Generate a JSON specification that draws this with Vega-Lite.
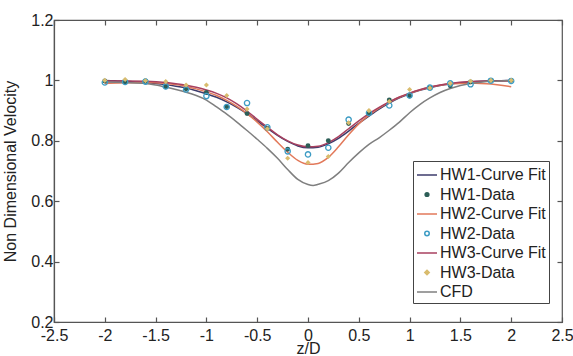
{
  "$schema": "https://vega.github.io/schema/vega-lite/v6.json",
  "width": 508,
  "height": 302,
  "autosize": {"type": "none"},
  "padding": {"left": 54, "top": 20, "right": 11, "bottom": 34},
  "background": "white",
  "config": {
    "view": {"stroke": "#555", "strokeWidth": 1.2},
    "font": "Liberation Sans",
    "axis": {
      "labelFont": "Liberation Sans",
      "labelFontSize": 16,
      "labelColor": "#222",
      "titleFont": "Liberation Sans",
      "titleFontSize": 16,
      "titleFontWeight": "normal",
      "titleColor": "#222",
      "domainColor": "#555",
      "domainWidth": 1.2,
      "tickColor": "#555",
      "tickWidth": 1.2,
      "tickSize": -5,
      "grid": false
    }
  },
  "datasets": {
    "curves": [
      {"series": "HW1-Curve Fit", "z": -2.0, "v": 1.0},
      {"series": "HW1-Curve Fit", "z": -1.9, "v": 0.999},
      {"series": "HW1-Curve Fit", "z": -1.8, "v": 0.997},
      {"series": "HW1-Curve Fit", "z": -1.7, "v": 0.995},
      {"series": "HW1-Curve Fit", "z": -1.6, "v": 0.993},
      {"series": "HW1-Curve Fit", "z": -1.5, "v": 0.99},
      {"series": "HW1-Curve Fit", "z": -1.4, "v": 0.986},
      {"series": "HW1-Curve Fit", "z": -1.3, "v": 0.981},
      {"series": "HW1-Curve Fit", "z": -1.2, "v": 0.975},
      {"series": "HW1-Curve Fit", "z": -1.1, "v": 0.966},
      {"series": "HW1-Curve Fit", "z": -1.0, "v": 0.956},
      {"series": "HW1-Curve Fit", "z": -0.9, "v": 0.944},
      {"series": "HW1-Curve Fit", "z": -0.8, "v": 0.929},
      {"series": "HW1-Curve Fit", "z": -0.7, "v": 0.911},
      {"series": "HW1-Curve Fit", "z": -0.6, "v": 0.89},
      {"series": "HW1-Curve Fit", "z": -0.5, "v": 0.866},
      {"series": "HW1-Curve Fit", "z": -0.4, "v": 0.842},
      {"series": "HW1-Curve Fit", "z": -0.3, "v": 0.818},
      {"series": "HW1-Curve Fit", "z": -0.2, "v": 0.798},
      {"series": "HW1-Curve Fit", "z": -0.1, "v": 0.783},
      {"series": "HW1-Curve Fit", "z": 0.0, "v": 0.777},
      {"series": "HW1-Curve Fit", "z": 0.1, "v": 0.779},
      {"series": "HW1-Curve Fit", "z": 0.2, "v": 0.79},
      {"series": "HW1-Curve Fit", "z": 0.3, "v": 0.808},
      {"series": "HW1-Curve Fit", "z": 0.4, "v": 0.832},
      {"series": "HW1-Curve Fit", "z": 0.5, "v": 0.858},
      {"series": "HW1-Curve Fit", "z": 0.6, "v": 0.882},
      {"series": "HW1-Curve Fit", "z": 0.7, "v": 0.905},
      {"series": "HW1-Curve Fit", "z": 0.8, "v": 0.925},
      {"series": "HW1-Curve Fit", "z": 0.9, "v": 0.942},
      {"series": "HW1-Curve Fit", "z": 1.0, "v": 0.956},
      {"series": "HW1-Curve Fit", "z": 1.1, "v": 0.967},
      {"series": "HW1-Curve Fit", "z": 1.2, "v": 0.976},
      {"series": "HW1-Curve Fit", "z": 1.3, "v": 0.983},
      {"series": "HW1-Curve Fit", "z": 1.4, "v": 0.988},
      {"series": "HW1-Curve Fit", "z": 1.5, "v": 0.992},
      {"series": "HW1-Curve Fit", "z": 1.6, "v": 0.995},
      {"series": "HW1-Curve Fit", "z": 1.7, "v": 0.997},
      {"series": "HW1-Curve Fit", "z": 1.8, "v": 0.998},
      {"series": "HW1-Curve Fit", "z": 1.9, "v": 0.999},
      {"series": "HW1-Curve Fit", "z": 2.0, "v": 1.0},

      {"series": "HW2-Curve Fit", "z": -2.0, "v": 0.99},
      {"series": "HW2-Curve Fit", "z": -1.8, "v": 0.992},
      {"series": "HW2-Curve Fit", "z": -1.6, "v": 0.993},
      {"series": "HW2-Curve Fit", "z": -1.4, "v": 0.99},
      {"series": "HW2-Curve Fit", "z": -1.3, "v": 0.986},
      {"series": "HW2-Curve Fit", "z": -1.2, "v": 0.98},
      {"series": "HW2-Curve Fit", "z": -1.1, "v": 0.972},
      {"series": "HW2-Curve Fit", "z": -1.0, "v": 0.962},
      {"series": "HW2-Curve Fit", "z": -0.9, "v": 0.95},
      {"series": "HW2-Curve Fit", "z": -0.8, "v": 0.934},
      {"series": "HW2-Curve Fit", "z": -0.7, "v": 0.914},
      {"series": "HW2-Curve Fit", "z": -0.6, "v": 0.89},
      {"series": "HW2-Curve Fit", "z": -0.5, "v": 0.862},
      {"series": "HW2-Curve Fit", "z": -0.4, "v": 0.83},
      {"series": "HW2-Curve Fit", "z": -0.3, "v": 0.795},
      {"series": "HW2-Curve Fit", "z": -0.2, "v": 0.762},
      {"series": "HW2-Curve Fit", "z": -0.1, "v": 0.735},
      {"series": "HW2-Curve Fit", "z": 0.0, "v": 0.722},
      {"series": "HW2-Curve Fit", "z": 0.1, "v": 0.725},
      {"series": "HW2-Curve Fit", "z": 0.2, "v": 0.745},
      {"series": "HW2-Curve Fit", "z": 0.3, "v": 0.78},
      {"series": "HW2-Curve Fit", "z": 0.4, "v": 0.82},
      {"series": "HW2-Curve Fit", "z": 0.5, "v": 0.856},
      {"series": "HW2-Curve Fit", "z": 0.6, "v": 0.885},
      {"series": "HW2-Curve Fit", "z": 0.7, "v": 0.908},
      {"series": "HW2-Curve Fit", "z": 0.8, "v": 0.928},
      {"series": "HW2-Curve Fit", "z": 0.9, "v": 0.944},
      {"series": "HW2-Curve Fit", "z": 1.0, "v": 0.957},
      {"series": "HW2-Curve Fit", "z": 1.1, "v": 0.968},
      {"series": "HW2-Curve Fit", "z": 1.2, "v": 0.977},
      {"series": "HW2-Curve Fit", "z": 1.3, "v": 0.984},
      {"series": "HW2-Curve Fit", "z": 1.4, "v": 0.988},
      {"series": "HW2-Curve Fit", "z": 1.5, "v": 0.99},
      {"series": "HW2-Curve Fit", "z": 1.6, "v": 0.991},
      {"series": "HW2-Curve Fit", "z": 1.7, "v": 0.99},
      {"series": "HW2-Curve Fit", "z": 1.8, "v": 0.988},
      {"series": "HW2-Curve Fit", "z": 1.9, "v": 0.984},
      {"series": "HW2-Curve Fit", "z": 2.0, "v": 0.979},

      {"series": "HW3-Curve Fit", "z": -2.0, "v": 0.998},
      {"series": "HW3-Curve Fit", "z": -1.8, "v": 0.998},
      {"series": "HW3-Curve Fit", "z": -1.6, "v": 0.997},
      {"series": "HW3-Curve Fit", "z": -1.4, "v": 0.993},
      {"series": "HW3-Curve Fit", "z": -1.3, "v": 0.989},
      {"series": "HW3-Curve Fit", "z": -1.2, "v": 0.984},
      {"series": "HW3-Curve Fit", "z": -1.1, "v": 0.977},
      {"series": "HW3-Curve Fit", "z": -1.0, "v": 0.968},
      {"series": "HW3-Curve Fit", "z": -0.9, "v": 0.957},
      {"series": "HW3-Curve Fit", "z": -0.8, "v": 0.942},
      {"series": "HW3-Curve Fit", "z": -0.7, "v": 0.922},
      {"series": "HW3-Curve Fit", "z": -0.6, "v": 0.898},
      {"series": "HW3-Curve Fit", "z": -0.5, "v": 0.871},
      {"series": "HW3-Curve Fit", "z": -0.4, "v": 0.845},
      {"series": "HW3-Curve Fit", "z": -0.3, "v": 0.82},
      {"series": "HW3-Curve Fit", "z": -0.2, "v": 0.8},
      {"series": "HW3-Curve Fit", "z": -0.1, "v": 0.786},
      {"series": "HW3-Curve Fit", "z": 0.0, "v": 0.78},
      {"series": "HW3-Curve Fit", "z": 0.1, "v": 0.782},
      {"series": "HW3-Curve Fit", "z": 0.2, "v": 0.794},
      {"series": "HW3-Curve Fit", "z": 0.3, "v": 0.814},
      {"series": "HW3-Curve Fit", "z": 0.4, "v": 0.84},
      {"series": "HW3-Curve Fit", "z": 0.5, "v": 0.866},
      {"series": "HW3-Curve Fit", "z": 0.6, "v": 0.89},
      {"series": "HW3-Curve Fit", "z": 0.7, "v": 0.911},
      {"series": "HW3-Curve Fit", "z": 0.8, "v": 0.929},
      {"series": "HW3-Curve Fit", "z": 0.9, "v": 0.945},
      {"series": "HW3-Curve Fit", "z": 1.0, "v": 0.958},
      {"series": "HW3-Curve Fit", "z": 1.1, "v": 0.969},
      {"series": "HW3-Curve Fit", "z": 1.2, "v": 0.978},
      {"series": "HW3-Curve Fit", "z": 1.3, "v": 0.985},
      {"series": "HW3-Curve Fit", "z": 1.4, "v": 0.99},
      {"series": "HW3-Curve Fit", "z": 1.6, "v": 0.996},
      {"series": "HW3-Curve Fit", "z": 1.8, "v": 0.998},
      {"series": "HW3-Curve Fit", "z": 2.0, "v": 0.998},

      {"series": "CFD", "z": -2.0, "v": 0.995},
      {"series": "CFD", "z": -1.8, "v": 0.993},
      {"series": "CFD", "z": -1.6, "v": 0.99},
      {"series": "CFD", "z": -1.5, "v": 0.985},
      {"series": "CFD", "z": -1.4, "v": 0.978},
      {"series": "CFD", "z": -1.3, "v": 0.97},
      {"series": "CFD", "z": -1.2, "v": 0.961},
      {"series": "CFD", "z": -1.1, "v": 0.95},
      {"series": "CFD", "z": -1.0, "v": 0.935},
      {"series": "CFD", "z": -0.9, "v": 0.912},
      {"series": "CFD", "z": -0.8, "v": 0.888},
      {"series": "CFD", "z": -0.7, "v": 0.862},
      {"series": "CFD", "z": -0.6, "v": 0.834},
      {"series": "CFD", "z": -0.5, "v": 0.805},
      {"series": "CFD", "z": -0.4, "v": 0.775},
      {"series": "CFD", "z": -0.3, "v": 0.742},
      {"series": "CFD", "z": -0.2, "v": 0.705},
      {"series": "CFD", "z": -0.1, "v": 0.672},
      {"series": "CFD", "z": 0.0, "v": 0.655},
      {"series": "CFD", "z": 0.05, "v": 0.652},
      {"series": "CFD", "z": 0.1, "v": 0.656},
      {"series": "CFD", "z": 0.2, "v": 0.668},
      {"series": "CFD", "z": 0.3, "v": 0.693},
      {"series": "CFD", "z": 0.4, "v": 0.728},
      {"series": "CFD", "z": 0.5, "v": 0.76},
      {"series": "CFD", "z": 0.6, "v": 0.788},
      {"series": "CFD", "z": 0.7, "v": 0.81},
      {"series": "CFD", "z": 0.8, "v": 0.835},
      {"series": "CFD", "z": 0.9, "v": 0.862},
      {"series": "CFD", "z": 1.0, "v": 0.893},
      {"series": "CFD", "z": 1.1, "v": 0.92},
      {"series": "CFD", "z": 1.2, "v": 0.942},
      {"series": "CFD", "z": 1.3, "v": 0.96},
      {"series": "CFD", "z": 1.4, "v": 0.973},
      {"series": "CFD", "z": 1.5, "v": 0.983},
      {"series": "CFD", "z": 1.6, "v": 0.99},
      {"series": "CFD", "z": 1.7, "v": 0.994},
      {"series": "CFD", "z": 1.8, "v": 0.997},
      {"series": "CFD", "z": 1.9, "v": 0.998},
      {"series": "CFD", "z": 2.0, "v": 1.0}
    ],
    "hw1": [
      {"series": "HW1-Data", "z": -2.0, "v": 0.998},
      {"series": "HW1-Data", "z": -1.8, "v": 0.995},
      {"series": "HW1-Data", "z": -1.6, "v": 0.998},
      {"series": "HW1-Data", "z": -1.4, "v": 0.979},
      {"series": "HW1-Data", "z": -1.2, "v": 0.972},
      {"series": "HW1-Data", "z": -1.0, "v": 0.96},
      {"series": "HW1-Data", "z": -0.8, "v": 0.913},
      {"series": "HW1-Data", "z": -0.6, "v": 0.89},
      {"series": "HW1-Data", "z": -0.4, "v": 0.841},
      {"series": "HW1-Data", "z": -0.2, "v": 0.772},
      {"series": "HW1-Data", "z": 0.0, "v": 0.784},
      {"series": "HW1-Data", "z": 0.2, "v": 0.8},
      {"series": "HW1-Data", "z": 0.4, "v": 0.857},
      {"series": "HW1-Data", "z": 0.6, "v": 0.89},
      {"series": "HW1-Data", "z": 0.8, "v": 0.935},
      {"series": "HW1-Data", "z": 1.0, "v": 0.948},
      {"series": "HW1-Data", "z": 1.2, "v": 0.975},
      {"series": "HW1-Data", "z": 1.4, "v": 0.982},
      {"series": "HW1-Data", "z": 1.6, "v": 0.995},
      {"series": "HW1-Data", "z": 1.8, "v": 1.0},
      {"series": "HW1-Data", "z": 2.0, "v": 1.0}
    ],
    "hw2": [
      {"series": "HW2-Data", "z": -2.0, "v": 0.993},
      {"series": "HW2-Data", "z": -1.8, "v": 0.995},
      {"series": "HW2-Data", "z": -1.6, "v": 0.996},
      {"series": "HW2-Data", "z": -1.4, "v": 0.98},
      {"series": "HW2-Data", "z": -1.2, "v": 0.97},
      {"series": "HW2-Data", "z": -1.0, "v": 0.948},
      {"series": "HW2-Data", "z": -0.8, "v": 0.912},
      {"series": "HW2-Data", "z": -0.6, "v": 0.925},
      {"series": "HW2-Data", "z": -0.4, "v": 0.845},
      {"series": "HW2-Data", "z": -0.2, "v": 0.765},
      {"series": "HW2-Data", "z": 0.0, "v": 0.755},
      {"series": "HW2-Data", "z": 0.2, "v": 0.777},
      {"series": "HW2-Data", "z": 0.4, "v": 0.87},
      {"series": "HW2-Data", "z": 0.6, "v": 0.892},
      {"series": "HW2-Data", "z": 0.8, "v": 0.917},
      {"series": "HW2-Data", "z": 1.0, "v": 0.95},
      {"series": "HW2-Data", "z": 1.2, "v": 0.976},
      {"series": "HW2-Data", "z": 1.4, "v": 0.99},
      {"series": "HW2-Data", "z": 1.6, "v": 0.987},
      {"series": "HW2-Data", "z": 1.8, "v": 0.999},
      {"series": "HW2-Data", "z": 2.0, "v": 0.998}
    ],
    "hw3": [
      {"series": "HW3-Data", "z": -2.0, "v": 1.0},
      {"series": "HW3-Data", "z": -1.8, "v": 1.003},
      {"series": "HW3-Data", "z": -1.6, "v": 0.999},
      {"series": "HW3-Data", "z": -1.4, "v": 0.996},
      {"series": "HW3-Data", "z": -1.2, "v": 0.985},
      {"series": "HW3-Data", "z": -1.0, "v": 0.985},
      {"series": "HW3-Data", "z": -0.8, "v": 0.95},
      {"series": "HW3-Data", "z": -0.6, "v": 0.905},
      {"series": "HW3-Data", "z": -0.4, "v": 0.84},
      {"series": "HW3-Data", "z": -0.2, "v": 0.742},
      {"series": "HW3-Data", "z": 0.0, "v": 0.728},
      {"series": "HW3-Data", "z": 0.2, "v": 0.748},
      {"series": "HW3-Data", "z": 0.4, "v": 0.86},
      {"series": "HW3-Data", "z": 0.6, "v": 0.9},
      {"series": "HW3-Data", "z": 0.8, "v": 0.93},
      {"series": "HW3-Data", "z": 1.0, "v": 0.97},
      {"series": "HW3-Data", "z": 1.2, "v": 0.975},
      {"series": "HW3-Data", "z": 1.4, "v": 0.99},
      {"series": "HW3-Data", "z": 1.6, "v": 0.997},
      {"series": "HW3-Data", "z": 1.8, "v": 1.0},
      {"series": "HW3-Data", "z": 2.0, "v": 1.0}
    ]
  },
  "resolve": {"axis": {"x": "independent", "y": "independent"}},
  "layer": [
    {
      "data": {"name": "curves"},
      "mark": {"type": "line", "strokeWidth": 1.5, "interpolate": "monotone"},
      "encoding": {
        "x": {
          "field": "z", "type": "quantitative",
          "scale": {"domain": [-2.5, 2.5], "nice": false, "zero": false},
          "axis": {
            "title": "z/D",
            "values": [-2.5, -2, -1.5, -1, -0.5, 0, 0.5, 1, 1.5, 2, 2.5],
            "labelExpr": "'' + datum.value",
            "labelPadding": 10,
            "titlePadding": -3,
            "labelFlush": false
          }
        },
        "y": {
          "field": "v", "type": "quantitative",
          "scale": {"domain": [0.2, 1.2], "nice": false, "zero": false},
          "axis": {
            "title": "Non Dimensional Velocity",
            "values": [0.2, 0.4, 0.6, 0.8, 1, 1.2],
            "labelExpr": "'' + datum.value",
            "labelPadding": 6,
            "titlePadding": 12,
            "labelFlush": false,
            "encode": {
              "labels": {
                "update": {
                  "dy": {"signal": "datum.value == 0.2 ? -9 : 0"}
                }
              }
            }
          }
        },
        "color": {
          "field": "series", "type": "nominal",
          "scale": {
            "domain": ["HW1-Curve Fit", "HW1-Data", "HW2-Curve Fit", "HW2-Data", "HW3-Curve Fit", "HW3-Data", "CFD"],
            "range": ["#3d3b6b", "#2d5e57", "#e2795a", "#3d9cc4", "#a8405f", "#d9bc6e", "#7f7f7f"]
          },
          "legend": {
            "title": null,
            "orient": "none",
            "legendX": 359,
            "legendY": 141,
            "direction": "vertical",
            "strokeColor": "#444",
            "fillColor": "white",
            "padding": 3,
            "labelFont": "Liberation Sans",
            "labelFontSize": 16,
            "labelColor": "#222",
            "labelOffset": 2,
            "rowPadding": 0.5,
            "symbolType": "stroke",
            "symbolSize": 400,
            "symbolStrokeWidth": 1.5,
            "encode": {
              "symbols": {
                "update": {
                  "shape": {"signal": "datum.value == 'HW1-Data' || datum.value == 'HW2-Data' ? 'circle' : datum.value == 'HW3-Data' ? 'diamond' : 'stroke'"},
                  "size": {"signal": "datum.value == 'HW1-Data' ? 14 : datum.value == 'HW2-Data' || datum.value == 'HW3-Data' ? 20 : 400"},
                  "fill": {"signal": "datum.value == 'HW1-Data' ? '#2d5e57' : datum.value == 'HW3-Data' ? '#d9bc6e' : 'transparent'"},
                  "fillOpacity": {"signal": "datum.value == 'HW2-Data' ? 0 : 1"},
                  "stroke": {"scale": "color", "field": "value"},
                  "strokeWidth": {"value": 1.5}
                }
              }
            }
          }
        }
      }
    },
    {
      "data": {"name": "hw1"},
      "mark": {"type": "point", "shape": "circle", "filled": true, "size": 24, "opacity": 1},
      "encoding": {
        "x": {"field": "z", "type": "quantitative", "axis": null},
        "y": {"field": "v", "type": "quantitative", "axis": null},
        "color": {"field": "series", "type": "nominal"}
      }
    },
    {
      "data": {"name": "hw2"},
      "mark": {"type": "point", "shape": "circle", "filled": false, "size": 28, "strokeWidth": 1.3, "opacity": 1},
      "encoding": {
        "x": {"field": "z", "type": "quantitative", "axis": null},
        "y": {"field": "v", "type": "quantitative", "axis": null},
        "color": {"field": "series", "type": "nominal"}
      }
    },
    {
      "data": {"name": "hw3"},
      "mark": {"type": "point", "shape": "diamond", "filled": true, "size": 26, "opacity": 1},
      "encoding": {
        "x": {
          "field": "z", "type": "quantitative",
          "axis": {"orient": "top", "title": null, "labels": false, "domain": false, "values": [-2.5, -2, -1.5, -1, -0.5, 0, 0.5, 1, 1.5, 2, 2.5]}
        },
        "y": {
          "field": "v", "type": "quantitative",
          "axis": {"orient": "right", "title": null, "labels": false, "domain": false, "values": [0.2, 0.4, 0.6, 0.8, 1, 1.2]}
        },
        "color": {"field": "series", "type": "nominal"}
      }
    }
  ]
}
